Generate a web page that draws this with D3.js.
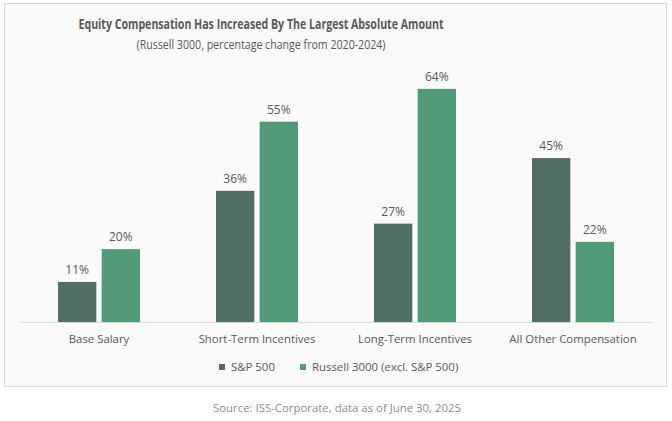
<!DOCTYPE html>
<html>
<head>
<meta charset="utf-8">
<script src="https://cdn.jsdelivr.net/npm/d3@7"></script>
<style>
  body { margin: 0; background: #fff; }
  text { font-family: "Segoe UI", "Open Sans", sans-serif; fill: #595959; }
</style>
</head>
<body>
<div id="chart"></div>
<script>
const categories = ["Base Salary", "Short-Term Incentives", "Long-Term Incentives", "All Other Compensation"];
const series = ["S&P 500", "Russell 3000 (excl. S&P 500)"];
const sp500 = [11, 36, 27, 45];
const russell = [20, 55, 64, 22];
const colors = ["#4f6e64", "#519a78"];

const W = 672, H = 421;
const svg = d3.select("#chart").append("svg")
    .attr("width", W)
    .attr("height", H);

// panel
svg.append("rect")
    .attr("x", 4.5).attr("y", 3.5)
    .attr("width", 662).attr("height", 383)
    .attr("fill", "#fafafa")
    .attr("stroke", "#d9d9d9");

// titles (squeezed to the width of the original narrower font)
svg.append("text")
    .attr("x", 261).attr("y", 29)
    .attr("text-anchor", "middle")
    .attr("textLength", 365)
    .attr("lengthAdjust", "spacingAndGlyphs")
    .style("font-size", "13.5px")
    .style("font-weight", "bold")
    .text("Equity Compensation Has Increased By The Largest Absolute Amount");
svg.append("text")
    .attr("x", 261).attr("y", 49)
    .attr("text-anchor", "middle")
    .attr("textLength", 249)
    .attr("lengthAdjust", "spacingAndGlyphs")
    .style("font-size", "12.5px")
    .text("(Russell 3000, percentage change from 2020-2024)");

// scales
const x = d3.scaleBand().domain(categories).range([20, 652]);
const xSub = d3.scaleBand().domain(series)
    .range([x.bandwidth() / 2 - 41, x.bandwidth() / 2 + 41])
    .paddingInner(10 / 82);
const y = d3.scaleLinear().domain([0, 70]).range([322, 67]);

const rows = categories.map((c, i) => ({ cat: c, vals: [sp500[i], russell[i]] }));

const groups = svg.selectAll(".grp")
    .data(rows)
    .join("g")
    .attr("class", "grp")
    .attr("transform", d => `translate(${x(d.cat)},0)`);

groups.selectAll("rect")
    .data(d => d.vals.map((v, j) => ({ s: series[j], v: v, j: j })))
    .join("rect")
    .attr("x", d => xSub(d.s))
    .attr("y", d => y(d.v))
    .attr("width", xSub.bandwidth())
    .attr("height", d => y(0) - y(d.v))
    .attr("fill", d => colors[d.j]);

groups.selectAll(".lbl")
    .data(d => d.vals.map((v, j) => ({ s: series[j], v: v })))
    .join("text")
    .attr("class", "lbl")
    .attr("x", d => xSub(d.s) + xSub.bandwidth() / 2)
    .attr("y", d => y(d.v) - 8)
    .attr("text-anchor", "middle")
    .style("font-size", "12px")
    .text(d => d.v + "%");

// x axis
const xAxis = d3.axisBottom(x).tickSize(0).tickPadding(13);
const gx = svg.append("g")
    .attr("transform", `translate(0,${y(0)})`)
    .call(xAxis);
gx.select(".domain").attr("stroke", "#d9d9d9");
gx.selectAll("text")
    .style("font-size", "11.4px")
    .style("fill", "#595959");

// legend
const legendX = [219, 300];
const lg = svg.selectAll(".leg")
    .data(series)
    .join("g")
    .attr("class", "leg")
    .attr("transform", (d, i) => `translate(${legendX[i]},364)`);
lg.append("rect")
    .attr("width", 6).attr("height", 6)
    .attr("fill", (d, i) => colors[i]);
lg.append("text")
    .attr("x", 12).attr("y", 7)
    .style("font-size", "11.4px")
    .text(d => d);

// source
svg.append("text")
    .attr("x", 337).attr("y", 412)
    .attr("text-anchor", "middle")
    .style("font-size", "11.4px")
    .style("fill", "#8c8c8c")
    .text("Source: ISS-Corporate, data as of June 30, 2025");
</script>
</body>
</html>
